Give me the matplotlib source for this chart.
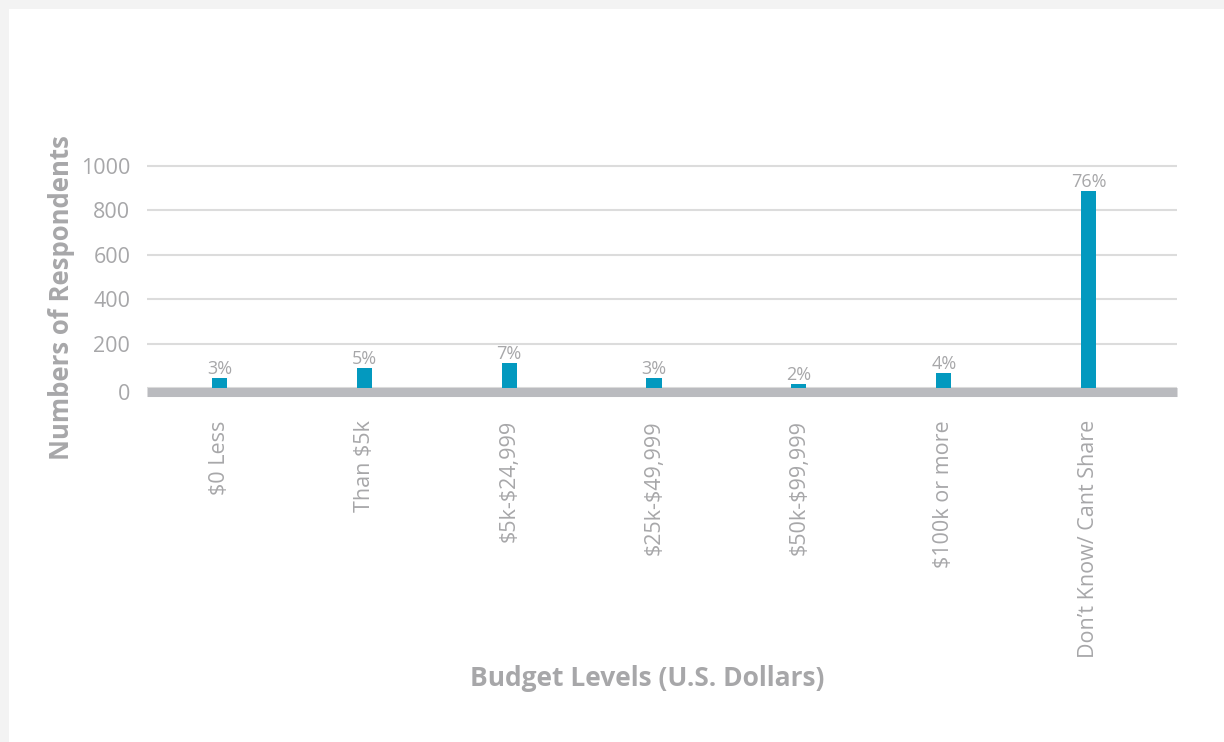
import matplotlib.pyplot as plt
from matplotlib.patches import Rectangle
from matplotlib.transforms import ScaledTranslation

# budget survey: respondents per budget level
categories = ["$0 Less", "Than $5k", "$5k-$24,999", "$25k-$49,999",
              "$50k-$99,999", "$100k or more", "Don\u2019t Know/ Cant Share"]
respondents = [45, 90, 112, 45, 18, 67, 886]
share_labels = ["3%", "5%", "7%", "3%", "2%", "4%", "76%"]
yticks = [0, 200, 400, 600, 800, 1000]

bar_color = "#0399bf"
text_gray = "#a7a7a9"
grid_gray = "#dcdcdc"
base_gray = "#babbbf"

plt.rcParams['font.family'] = ['Open Sans', 'DejaVu Sans']
plt.rcParams['text.parse_math'] = False  # dollar signs are literal

W, H = 1224, 742
fig = plt.figure(figsize=(W / 100, H / 100), dpi=100, facecolor="#f3f3f3")
# white card with a thin gray margin on the top and left
fig.patches.append(Rectangle((9 / W, 0), 1, 1 - 9 / H, transform=fig.transFigure,
                             facecolor="white", edgecolor="none", zorder=-5))

ax = fig.add_axes([147 / W, 1 - 388 / H, (1177 - 147) / W, (388 - 163.5) / H])
ax.set_facecolor("none")
ax.set_zorder(2)

x = range(len(categories))
ax.bar(x, respondents, width=0.104, color=bar_color, zorder=2)
for xi, v, lab in zip(x, respondents, share_labels):
    ax.annotate(lab, (xi, v), xytext=(0, 0), textcoords="offset points",
                ha="center", va="bottom", fontsize=13, color=text_gray)

ax.set_xlim(-0.5, len(categories) - 0.39)
ax.set_ylim(0, 1010)
ax.set_yticks(yticks)
ax.set_yticklabels([str(t) for t in yticks])
ax.yaxis.grid(True, color=grid_gray, linewidth=1.5, zorder=0)
ax.set_axisbelow(True)

for s in ["top", "right", "left"]:
    ax.spines[s].set_visible(False)
# thick gray baseline sitting just under zero
ax.spines["bottom"].set_color(base_gray)
ax.spines["bottom"].set_linewidth(6.5)
ax.spines["bottom"].set_capstyle("butt")
ax.spines["bottom"].set_position(("outward", 3.2))
ax.spines["bottom"].set_zorder(3)

ax.set_xticks(list(x))
ax.set_xticklabels(categories, rotation=90, ha="center", va="top")
ax.tick_params(axis="x", length=0, pad=20, labelsize=15.5, labelcolor=text_gray)
ax.tick_params(axis="y", length=0, pad=12, labelsize=15.5, labelcolor=text_gray)

# the zero label lines up with the middle of the baseline band
zero_lbl = ax.get_yticklabels()[0]
zero_lbl.set_transform(zero_lbl.get_transform()
                       + ScaledTranslation(0, -4 / 100, fig.dpi_scale_trans))

fig.text(62 / W, 1 - 298 / H, "Numbers of Respondents", rotation=90,
         ha="center", va="center", fontsize=18.5, fontweight="bold", color=text_gray)
fig.text(647 / W, 1 - 679 / H, "Budget Levels (U.S. Dollars)",
         ha="center", va="center", fontsize=19, fontweight="bold", color=text_gray)

fig.savefig("out.png", dpi=100, facecolor=fig.get_facecolor())
